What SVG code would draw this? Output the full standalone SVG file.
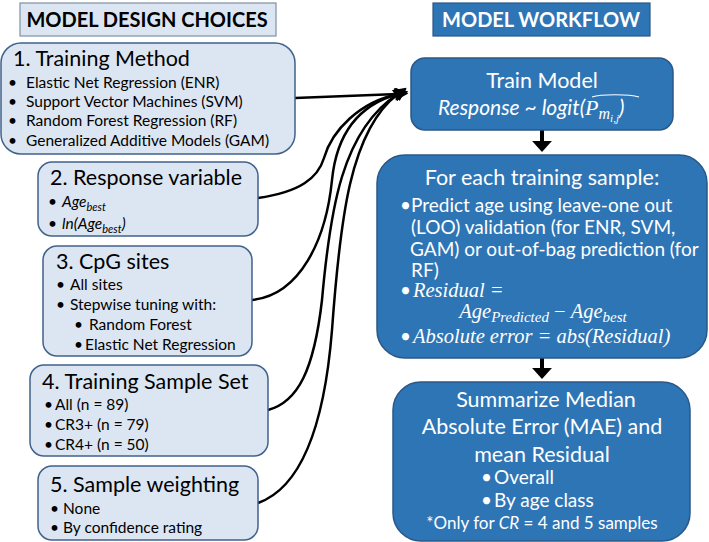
<svg xmlns="http://www.w3.org/2000/svg" width="709" height="542" viewBox="0 0 709 542">
<defs>
<style>
.lbox{fill:#dce6f2;stroke:#41628c;stroke-width:1.5}
.dbox{fill:#2e75b6;stroke:#2a5886;stroke-width:1.5}
.t{font-family:Lato,"Open Sans",sans-serif;fill:#000}
.w{font-family:Lato,"Open Sans",sans-serif;fill:#fff}
.m{font-family:"Liberation Serif","DejaVu Serif",serif;font-style:italic;fill:#fff}
.h1{font-size:21.5px}
.b{font-size:15.5px}
.hw{font-size:21.5px}
.bw{font-size:19px}
.con{fill:none;stroke:#000;stroke-width:2.5}
.vert{fill:none;stroke:#000;stroke-width:4}
</style>
<marker id="ah" viewBox="0 0 10 10" refX="2" refY="5" markerWidth="14" markerHeight="13" markerUnits="userSpaceOnUse" orient="auto">
<path d="M0,0 L10,5 L0,10 z" fill="#000"/>
</marker>
<marker id="ahb" viewBox="0 0 10 10" refX="1" refY="5" markerWidth="11" markerHeight="20" markerUnits="userSpaceOnUse" orient="auto" preserveAspectRatio="none">
<path d="M0,0 L10,5 L0,10 z" fill="#000"/>
</marker>
</defs>
<rect width="709" height="542" fill="#fff"/>

<g id="title-left">
<rect x="20" y="3" width="256" height="33" fill="#dce6f2" stroke="#7f8fa6" stroke-width="1.2"/>
<text class="t" x="147" y="27" text-anchor="middle" font-weight="bold" font-size="20">MODEL DESIGN CHOICES</text>
</g>
<g id="title-right">
<rect x="433" y="3" width="217" height="33" fill="#2e75b6" stroke="#2a5886" stroke-width="1.2"/>
<text class="w" x="541" y="27" text-anchor="middle" font-weight="bold" font-size="20">MODEL WORKFLOW</text>
</g>

<g id="connectors">
<path class="con" d="M295,98 L398,94" marker-end="url(#ah)"/>
<path class="con" d="M258,198 C300,192 318,178 324,158 C332,130 360,102 398,94" marker-end="url(#ah)"/>
<path class="con" d="M252,300 C300,295 326,240 332,180 C337,130 362,104 398,94" marker-end="url(#ah)"/>
<path class="con" d="M268,410 C298,402 314,370 322,300 C330,210 342,130 398,94" marker-end="url(#ah)"/>
<path class="con" d="M258,503 C300,488 324,430 332,330 C340,220 350,130 398,94" marker-end="url(#ah)"/>
<path class="vert" d="M542,130 L542,142" marker-end="url(#ahb)"/>
<path class="vert" d="M542,358 L542,369" marker-end="url(#ahb)"/>
</g>

<g id="node-training-method">
<rect class="lbox" x="1" y="43" width="294" height="111" rx="20"/>
<text class="t h1" x="13" y="66">1. Training Method</text>
<g class="t b">
<text x="8" y="88">•</text><text x="26" y="88">Elastic Net Regression (ENR)</text>
<text x="8" y="107">•</text><text x="26" y="107">Support Vector Machines (SVM)</text>
<text x="8" y="126">•</text><text x="26" y="126">Random Forest Regression (RF)</text>
<text x="8" y="146">•</text><text x="26" y="146">Generalized Additive Models (GAM)</text>
</g>
</g>

<g id="node-response-variable">
<rect class="lbox" x="38" y="162" width="220" height="74" rx="14"/>
<text class="t h1" x="50" y="185">2. Response variable</text>
<g class="t b">
<text x="48" y="207">•</text><text x="62" y="207" font-style="italic">Age<tspan font-size="11" dy="4">best</tspan></text>
<text x="48" y="229">•</text><text x="62" y="229" font-style="italic">ln(Age<tspan font-size="11" dy="4">best</tspan><tspan dy="-4">)</tspan></text>
</g>
</g>

<g id="node-cpg-sites">
<rect class="lbox" x="43" y="246" width="209" height="110" rx="14"/>
<text class="t h1" x="56" y="269">3. CpG sites</text>
<g class="t b">
<text x="56" y="290">•</text><text x="70" y="290">All sites</text>
<text x="56" y="310">•</text><text x="70" y="310">Stepwise tuning with:</text>
<text x="74" y="330">•</text><text x="89" y="330">Random Forest</text>
<text x="74" y="350">•</text><text x="85" y="350">Elastic Net Regression</text>
</g>
</g>

<g id="node-training-sample-set">
<rect class="lbox" x="30" y="365" width="238" height="91" rx="14"/>
<text class="t h1" x="42" y="389">4. Training Sample Set</text>
<g class="t b">
<text x="44" y="410">•</text><text x="55" y="410">All (n = 89)</text>
<text x="44" y="430">•</text><text x="55" y="430">CR3+ (n = 79)</text>
<text x="44" y="450">•</text><text x="55" y="450">CR4+ (n = 50)</text>
</g>
</g>

<g id="node-sample-weighting">
<rect class="lbox" x="38" y="466" width="220" height="74" rx="14"/>
<text class="t h1" x="50" y="492">5. Sample weighting</text>
<g class="t b">
<text x="50" y="514">•</text><text x="63" y="514">None</text>
<text x="50" y="533">•</text><text x="63" y="533">By confidence rating</text>
</g>
</g>

<g id="node-train-model">
<rect class="dbox" x="411" y="58" width="262" height="72" rx="14"/>
<text class="w hw" x="542" y="88" text-anchor="middle">Train Model</text>
<text class="w" x="438" y="115" font-size="21" font-style="italic">Response ~ logit(<tspan class="m" font-size="22">P</tspan><tspan class="m" font-size="16" dy="4">m</tspan><tspan class="m" font-size="11" dy="3">i,j</tspan><tspan dy="-7">)</tspan></text>
<path d="M592,97 C601,94 629,94 639,97" fill="none" stroke="#fff" stroke-width="1.2"/>
</g>

<g id="node-each-sample">
<rect class="dbox" x="377" y="155" width="330" height="203" rx="28"/>
<text class="w hw" x="542" y="185" text-anchor="middle">For each training sample:</text>
<g class="w bw">
<text x="400" y="212">•</text><text x="411" y="212">Predict age using leave-one out</text>
<text x="411" y="234">(LOO) validation (for ENR, SVM,</text>
<text x="410" y="256">GAM) or out-of-bag prediction (for</text>
<text x="411" y="277">RF)</text>
<text x="400" y="297">•</text>
<text x="400" y="343">•</text>
</g>
<text class="m" x="413" y="297" font-size="20.5">Residual =</text>
<text class="m" x="543" y="318" font-size="20.5" text-anchor="middle">Age<tspan font-size="15" dy="4">Predicted</tspan><tspan dy="-4" font-style="normal"> − </tspan>Age<tspan font-size="15" dy="4">best</tspan></text>
<text class="m" x="413" y="343" font-size="20.5">Absolute error = abs(Residual)</text>
</g>

<g id="node-summarize">
<rect class="dbox" x="393" y="382" width="297" height="159" rx="28"/>
<g class="w hw" text-anchor="middle">
<text x="546" y="407">Summarize Median</text>
<text x="542" y="434">Absolute Error (MAE) and</text>
<text x="542" y="462">mean Residual</text>
</g>
<g class="w bw">
<text x="481" y="484">•</text><text x="494" y="484">Overall</text>
<text x="481" y="507">•</text><text x="494" y="507">By age class</text>
</g>
<text class="w" x="542" y="529" font-size="17" text-anchor="middle">*Only for <tspan font-style="italic">CR</tspan> = 4 and 5 samples</text>
</g>
</svg>
